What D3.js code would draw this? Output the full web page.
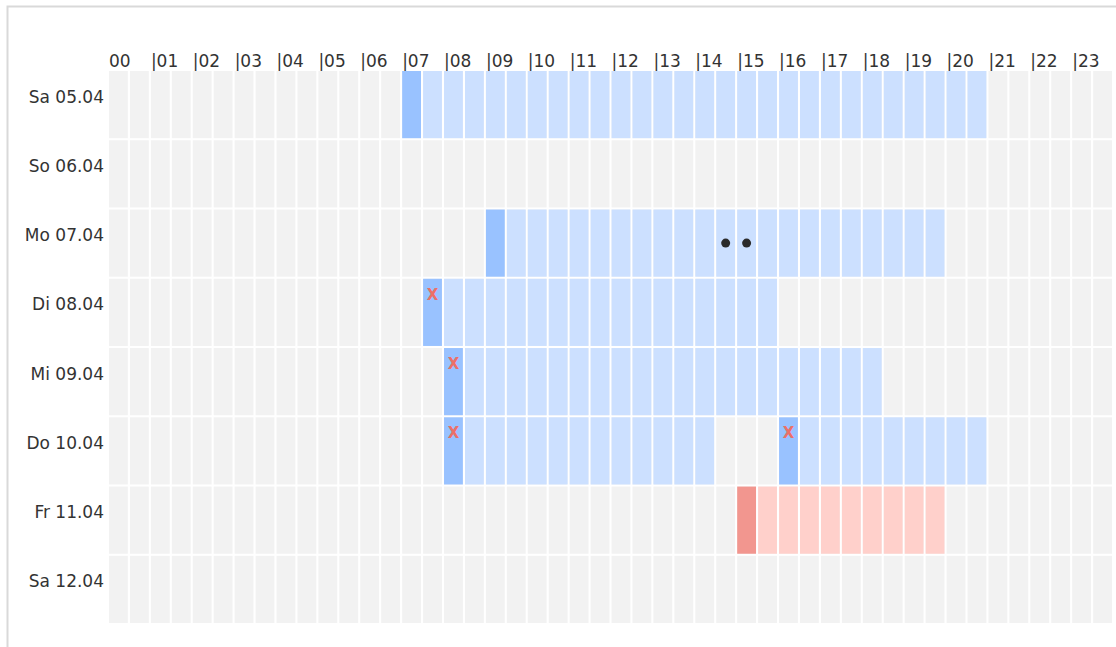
<!DOCTYPE html>
<html>
<head>
<meta charset="utf-8">
<script src="https://cdn.jsdelivr.net/npm/d3@7"></script>
<style>
  body { margin: 0; background: #fff; }
  text { font-family: "DejaVu Sans", Verdana, sans-serif; fill: #333; }
</style>
</head>
<body>
<div id="plan"></div>
<script>
var svgWidth = 1116;
var svgHeight = 647;

var margin = { top: 71, right: 4, bottom: 24, left: 109 };
var width = svgWidth - margin.left - margin.right;
var height = svgHeight - margin.top - margin.bottom;

// data
var days = ["Sa 05.04", "So 06.04", "Mo 07.04", "Di 08.04", "Mi 09.04", "Do 10.04", "Fr 11.04", "Sa 12.04"];
var hourLabels = ["00", "01", "02", "03", "04", "05", "06", "07", "08", "09", "10", "11",
                  "12", "13", "14", "15", "16", "17", "18", "19", "20", "21", "22", "23"];

var shiftDays   = [0, 2, 3, 4, 5, 5, 6];
var shiftStarts = ["07:00", "09:00", "07:30", "08:00", "08:00", "16:00", "15:00"];
var shiftEnds   = ["21:00", "20:00", "16:00", "18:30", "14:30", "21:00", "20:00"];
var shiftTypes  = ["plan", "plan", "plan", "plan", "plan", "plan", "absent"];

var crossDays  = [3, 4, 5, 5];
var crossTimes = ["07:30", "08:00", "08:00", "16:00"];

var dotDays  = [2, 2];
var dotTimes = ["14:30", "15:00"];

var colors = {
  plan:   { first: "#99c2ff", rest: "#cce0ff" },
  absent: { first: "#f2968f", rest: "#ffd0cb" }
};

function slotOf(t) {
  var p = t.split(":");
  return (+p[0]) * 2 + (+p[1] >= 30 ? 1 : 0);
}

var slots = d3.range(48);

var svg = d3.select("#plan")
  .append("svg")
  .attr("width", svgWidth)
  .attr("height", svgHeight);

// frame
svg.append("path")
  .attr("d", "M7.5," + svgHeight + "V6.5H" + svgWidth)
  .attr("fill", "none")
  .attr("stroke", "#d9d9d9")
  .attr("stroke-width", 2);

var chartGroup = svg.append("g")
  .attr("transform", `translate(${margin.left}, ${margin.top})`);

var x = d3.scaleBand()
  .domain(slots)
  .range([0, width])
  .paddingInner(0.1);

var y = d3.scaleBand()
  .domain(days)
  .range([0, height])
  .paddingInner(0.03);

// background cells
var cells = [];
days.forEach(function (d) {
  slots.forEach(function (s) { cells.push({ day: d, slot: s }); });
});

chartGroup.selectAll("rect.bg")
  .data(cells)
  .enter()
  .append("rect")
  .attr("class", "bg")
  .attr("x", d => x(d.slot))
  .attr("y", d => y(d.day))
  .attr("width", x.bandwidth())
  .attr("height", y.bandwidth())
  .attr("fill", "#f2f2f2");

// shifts
var shiftCells = [];
shiftDays.forEach(function (dayIdx, i) {
  var a = slotOf(shiftStarts[i]);
  var b = slotOf(shiftEnds[i]);
  for (var s = a; s < b; s++) {
    shiftCells.push({ day: days[dayIdx], slot: s, first: s === a, type: shiftTypes[i] });
  }
});

chartGroup.selectAll("rect.shift")
  .data(shiftCells)
  .enter()
  .append("rect")
  .attr("class", "shift")
  .attr("x", d => x(d.slot))
  .attr("y", d => y(d.day))
  .attr("width", x.bandwidth())
  .attr("height", y.bandwidth())
  .attr("fill", d => d.first ? colors[d.type].first : colors[d.type].rest);

// crosses
chartGroup.selectAll("text.cross")
  .data(crossDays)
  .enter()
  .append("text")
  .attr("class", "cross")
  .attr("x", (d, i) => x(slotOf(crossTimes[i])) + x.bandwidth() / 2)
  .attr("y", d => y(days[d]) + 21)
  .attr("text-anchor", "middle")
  .style("font-size", "15px")
  .style("font-weight", "bold")
  .style("fill", "#eb7068")
  .text("X");

// dots
chartGroup.selectAll("circle.dot")
  .data(dotDays)
  .enter()
  .append("circle")
  .attr("class", "dot")
  .attr("cx", (d, i) => x(slotOf(dotTimes[i])) + x.bandwidth() / 2)
  .attr("cy", d => y(days[d]) + y.bandwidth() / 2)
  .attr("r", 4.5)
  .attr("fill", "#2b2b2b");

// hour labels
chartGroup.selectAll("text.hour")
  .data(hourLabels)
  .enter()
  .append("text")
  .attr("class", "hour")
  .attr("x", (d, i) => x(i * 2))
  .attr("y", -4)
  .style("font-size", "17px")
  .text((d, i) => (i === 0 ? "" : "|") + d);

// day labels
chartGroup.selectAll("text.day")
  .data(days)
  .enter()
  .append("text")
  .attr("class", "day")
  .attr("x", -5)
  .attr("y", d => y(d) + y.bandwidth() / 2 - 8)
  .attr("dy", "0.35em")
  .attr("text-anchor", "end")
  .style("font-size", "17px")
  .text(d => d);
</script>
</body>
</html>
